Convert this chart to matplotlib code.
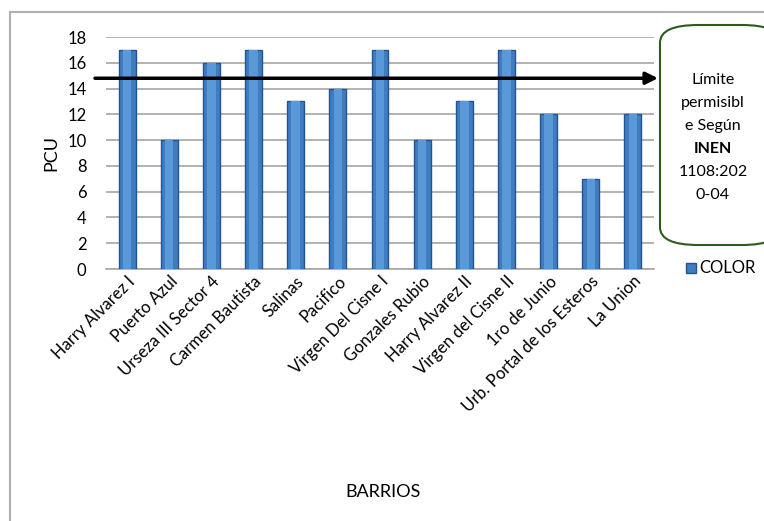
import matplotlib
matplotlib.use("Agg")
import matplotlib.pyplot as plt
from matplotlib.patches import FancyBboxPatch, Rectangle

barrios = ["Harry Alvarez I", "Puerto Azul", "Urseza III Sector 4", "Carmen Bautista",
           "Salinas", "Pacifico", "Virgen Del Cisne I", "Gonzales Rubio",
           "Harry Alvarez II", "Virgen del Cisne II", "1ro de Junio",
           "Urb. Portal de los Esteros", "La Union"]
color_vals = [17, 10, 16, 17, 13, 14, 17, 10, 13, 17, 12, 7, 12]
limite = 14.8
yticks = [0, 2, 4, 6, 8, 10, 12, 14, 16, 18]

plt.rcParams['font.family'] = ['Lato', 'DejaVu Sans']

W, H = 764, 521
fig = plt.figure(figsize=(W/100, H/100), dpi=100)

# outer chart border
fig.add_artist(Rectangle((10/W, -0.1), 1.2, 1 - 12/H + 0.1, transform=fig.transFigure,
                         fill=False, edgecolor='#b0b0b0', linewidth=1.5))

ax = fig.add_axes([106/W, 1 - 269/H, (654-106)/W, (269-37)/H])
x = list(range(len(barrios)))
ax.bar(x, color_vals, width=0.4, color='#3f7cc2', edgecolor='#24558f',
       linewidth=1.0, zorder=3, label='COLOR')
# lighter centre sheen of the same bars
ax.bar(x, color_vals, width=0.2, color='#5b98d8', linewidth=0, zorder=3.5)
ax.set_xlim(-0.5, len(barrios) - 0.5)
ax.set_ylim(0, 18)
ax.set_yticks(yticks)
ax.yaxis.grid(True, color='#a6a6a6', linewidth=1.2, zorder=0)
for s in ['top', 'right', 'left']:
    ax.spines[s].set_visible(False)
ax.spines['bottom'].set_color('#a6a6a6')
ax.spines['bottom'].set_linewidth(1.2)
ax.tick_params(axis='y', length=0, labelsize=12, pad=14)
ax.tick_params(axis='x', length=0, labelsize=12, pad=3)
ax.set_xticks(x)
ax.set_xticklabels(barrios, rotation=45, ha='right', rotation_mode='anchor')
ax.set_ylabel('PCU', fontsize=13, labelpad=6)
ax.set_xlabel('BARRIOS', fontsize=13, labelpad=0)
ax.xaxis.set_label_coords((383-106)/(654-106), (269-484)/(269-37))

# limit arrow line
ax.annotate('', xy=(658/W, limite), xycoords=('figure fraction', 'data'),
            xytext=(95/W, limite), textcoords=('figure fraction', 'data'),
            arrowprops=dict(arrowstyle='-|>', color='black', lw=2.5, mutation_scale=18,
                            shrinkA=0, shrinkB=0),
            annotation_clip=False, zorder=5)

# rounded callout box
box = FancyBboxPatch((660/W, 1 - 245/H), 120/W, 220/H, transform=fig.transFigure,
                     boxstyle='round,pad=0,rounding_size=0.05', facecolor='white',
                     edgecolor='#2f5a1e', linewidth=1.5, mutation_aspect=H/W)
fig.add_artist(box)
lines = ['Límite', 'permisibl', 'e Según', 'INEN', '1108:202', '0-04']
for i, t in enumerate(lines):
    fig.text(713/W, 1 - (80 + 23*i)/H, t, ha='center', va='center', fontsize=11.5,
             fontweight='bold' if t == 'INEN' else 'normal')

# legend
fig.add_artist(Rectangle((686/W, 1 - 273/H), 10/W, 10/H, transform=fig.transFigure,
                         facecolor='#3f7cc2', edgecolor='#24558f'))
fig.text(699/W, 1 - 268/H, 'COLOR', ha='left', va='center', fontsize=12)

fig.savefig('out.png', dpi=100)
